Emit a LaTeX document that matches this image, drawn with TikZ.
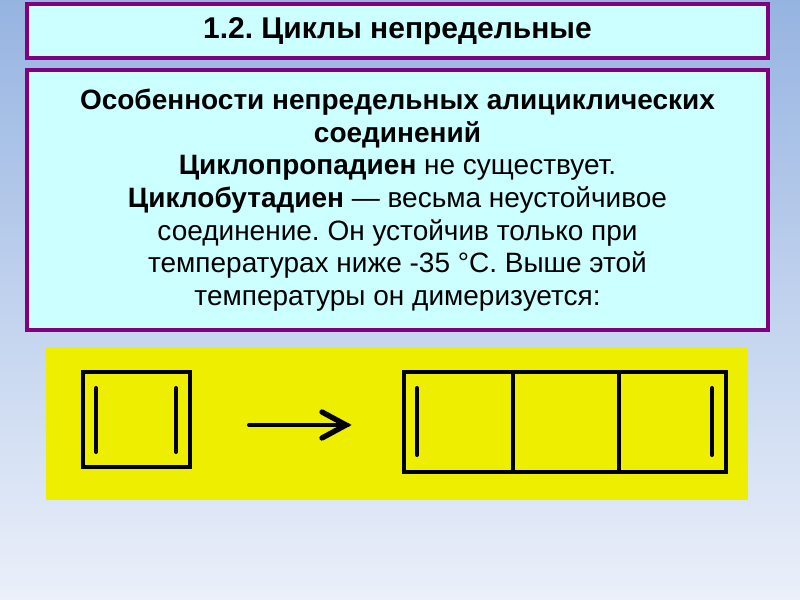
\documentclass[tikz,border=0pt]{standalone}
\usepackage{fontspec}
\setmainfont{Liberation Sans}
\frenchspacing
\definecolor{pborder}{RGB}{128,0,128}
\definecolor{pfill}{RGB}{204,255,255}
\definecolor{yel}{RGB}{238,238,0}
\begin{document}
\begin{tikzpicture}[x=0.75pt,y=-0.75pt,
  panel/.style={draw=pborder,line width=2.4pt,fill=pfill},
  ink/.style={line width=3pt,line cap=round,black}]
\shade[top color={rgb,255:red,150;green,180;blue,225},bottom color={rgb,255:red,235;green,240;blue,250}] (0,0) rectangle (800,600);
\useasboundingbox (0,0) rectangle (800,600);
\draw[panel] (27,4) rectangle (768,58);
\node (title) at (397.5,31) {\fontsize{22.5}{26}\selectfont\bfseries 1.2. Циклы непредельные};
\draw[panel] (27,70) rectangle (768,330);
\node[align=center,font=\fontsize{21}{24.5}\selectfont] (body) at (397.5,200) {%
\textbf{Особенности непредельных алициклических}\\
\textbf{соединений}\\
\textbf{Циклопропадиен} не существует.\\
\textbf{Циклобутадиен} — весьма неустойчивое\\
соединение. Он устойчив только при\\
температурах ниже -35 °С. Выше этой\\
температуры он димеризуется:};
\fill[yel] (46,347) rectangle (748,500);
\draw[ink] (83,372) rectangle (190,467);
\draw[ink] (96,388) -- (96,452);
\draw[ink] (176,388) -- (176,452);
\coordinate (a1) at (249,425);
\coordinate (a2) at (348,425);
\draw[ink] (a1) -- (a2);
\draw[ink,line width=4pt] (322,412) -- (346,425) -- (322,438);
\draw[ink] (404,372) rectangle (726,472);
\draw[ink] (513,372) -- (513,472);
\draw[ink] (619,372) -- (619,472);
\draw[ink] (417,388) -- (417,455);
\draw[ink] (712,388) -- (712,455);
\end{tikzpicture}
\end{document}
